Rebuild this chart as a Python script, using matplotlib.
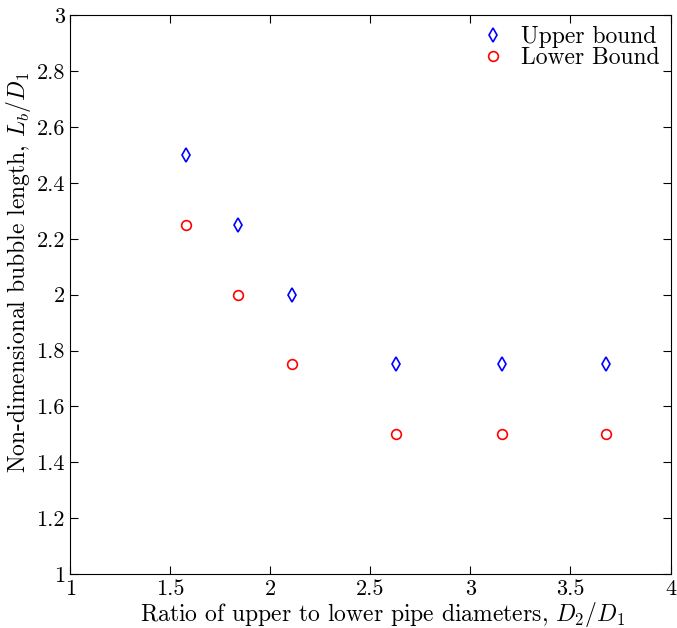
import matplotlib
matplotlib.use('Agg')
import matplotlib.pyplot as plt

ratio = [1.58, 1.84, 2.11, 2.63, 3.16, 3.68]
upper = [2.5, 2.25, 2.0, 1.75, 1.75, 1.75]
lower = [2.25, 2.0, 1.75, 1.5, 1.5, 1.5]
xticks = [1, 1.5, 2, 2.5, 3, 3.5, 4]
yticks = [1, 1.2, 1.4, 1.6, 1.8, 2, 2.2, 2.4, 2.6, 2.8, 3]

plt.rcParams['font.family'] = 'cmr10'
plt.rcParams['mathtext.fontset'] = 'cm'
plt.rcParams['axes.formatter.use_mathtext'] = True

fig = plt.figure(figsize=(6.77, 6.28), dpi=100)
ax = fig.add_axes([0.1041, 0.086, 0.8863, 0.8896])

ax.plot(ratio, upper, 'd', color='blue', mfc='none', ms=7, mew=1.2,
        label='Upper bound')
ax.plot(ratio, lower, 'o', color='red', mfc='none', ms=7, mew=1.2,
        label='Lower Bound')

ax.set_xlim(1, 4)
ax.set_ylim(1, 3)
ax.set_xticks(xticks)
ax.set_xticklabels([f'{t:g}' for t in xticks])
ax.set_yticks(yticks)
ax.set_yticklabels([f'{t:g}' for t in yticks])
ax.tick_params(direction='in', top=True, right=True, length=6, width=0.8,
               labelsize=16, pad=4)
for s in ax.spines.values():
    s.set_linewidth(0.8)

ax.set_xlabel('Ratio of upper to lower pipe diameters, $D_2/D_1$', fontsize=17,
              labelpad=1)
ax.xaxis.set_label_coords(0.52, -0.047)
ax.set_ylabel('Non-dimensional bubble length, $L_b/D_1$', fontsize=17,
              labelpad=3)
ax.yaxis.set_label_coords(-0.062, 0.54)

ax.legend(loc='upper right', frameon=False, fontsize=17, handletextpad=0.7,
          borderaxespad=0.05, labelspacing=-0.05, handlelength=1.0)

fig.savefig('out.png', dpi=100)
